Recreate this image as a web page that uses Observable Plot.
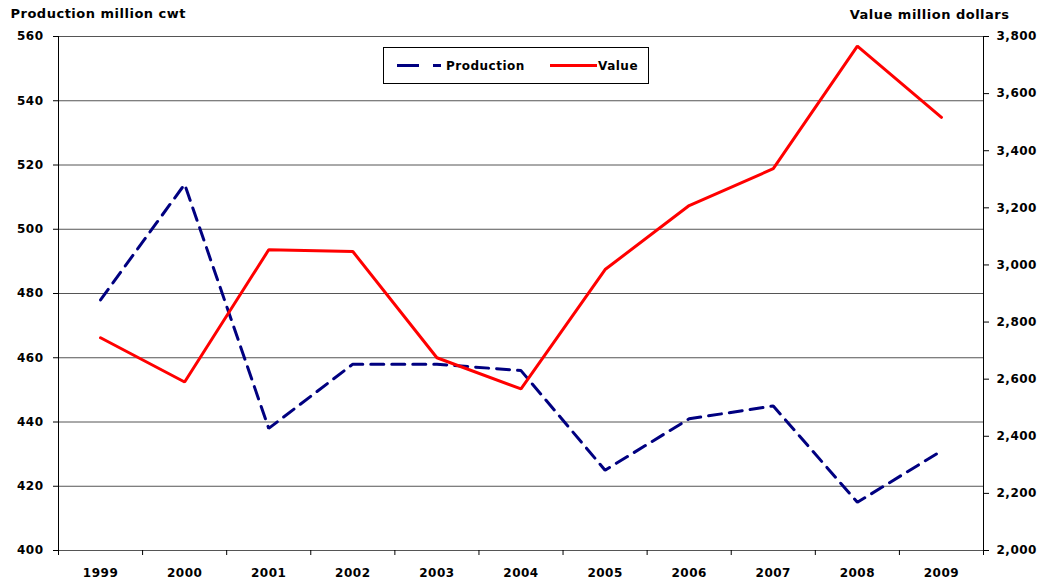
<!DOCTYPE html>
<html>
<head>
<meta charset="utf-8">
<script src="https://cdn.jsdelivr.net/npm/d3@7"></script>
<script src="https://cdn.jsdelivr.net/npm/@observablehq/plot@0.6"></script>
<style>
  body { margin: 0; background: #fff; font-family: "DejaVu Sans", sans-serif; }
  #wrap { position: relative; width: 1043px; height: 583px; }
  #legend { position: absolute; left: 383px; top: 47px; }
  svg text { font-family: "DejaVu Sans", sans-serif; font-weight: bold; letter-spacing: 0.5px; }
</style>
</head>
<body>
<div id="wrap"></div>
<script>
const years = [1999, 2000, 2001, 2002, 2003, 2004, 2005, 2006, 2007, 2008, 2009];
const production = [478, 514, 438, 458, 458, 456, 425, 441, 445, 415, 431];
const value = [2745, 2590, 3053, 3047, 2675, 2566, 2984, 3208, 3337, 3766, 3517];
const leftTicks = [400, 420, 440, 460, 480, 500, 520, 540, 560];
const rightTicks = [2000, 2200, 2400, 2600, 2800, 3000, 3200, 3400, 3600, 3800];
const leftTitle = "Production million cwt";
const rightTitle = "Value million dollars";
const seriesNames = ["Production", "Value"];

// map right-axis (value) units onto the left-axis (production) scale
const L0 = 400, L1 = 560, R0 = 2000, R1 = 3800;
const toLeft = v => L0 + (v - R0) * (L1 - L0) / (R1 - R0);
const toRight = p => R0 + (p - L0) * (R1 - R0) / (L1 - L0);

const table = years.map((y, i) => ({year: y, production: production[i], value: value[i]}));
const boundaries = [years[0] - 0.5, ...years.map(y => y + 0.5)];

const chart = Plot.plot({
  width: 1043,
  height: 583,
  marginLeft: 58,
  marginRight: 60,
  marginTop: 36,
  marginBottom: 33,
  style: {fontFamily: "'DejaVu Sans', sans-serif", fontSize: "12px", fontWeight: "bold", color: "#000", background: "#fff"},
  x: {type: "linear", domain: [years[0] - 0.5, years[years.length - 1] + 0.5]},
  y: {domain: [L0, L1]},
  marks: [
    Plot.ruleY(leftTicks, {stroke: "#555", strokeWidth: 1}),
    Plot.ruleX([boundaries[0], boundaries[boundaries.length - 1]], {y1: L0, y2: L1, stroke: "#000", strokeWidth: 1}),
    Plot.axisY(leftTicks, {anchor: "left", tickSize: 5, tickPadding: 10, label: null, tickFormat: d => String(d)}),
    Plot.axisY(rightTicks.map(toLeft), {anchor: "right", tickSize: 5, tickPadding: 8, label: null,
      tickFormat: d => d3.format(",")(Math.round(toRight(d)))}),
    Plot.axisX(boundaries, {tickSize: 5, tickFormat: () => "", label: null}),
    Plot.axisX(years, {tickSize: 0, tickPadding: 18, tickFormat: d => String(d), label: null}),
    Plot.line(table, {x: "year", y: "production", stroke: "#000080", strokeWidth: 3, strokeDasharray: "13,8", strokeLinejoin: "miter"}),
    Plot.line(table, {x: "year", y: d => toLeft(d.value), stroke: "#ff0000", strokeWidth: 3, strokeLinejoin: "miter"}),
    Plot.text([leftTitle], {frameAnchor: "top-left", dx: -48, dy: -28, textAnchor: "start", fontSize: 13, fontWeight: "bold"}),
    Plot.text([rightTitle], {frameAnchor: "top-right", dx: 26, dy: -27, textAnchor: "end", fontSize: 13, fontWeight: "bold"})
  ]
});
const wrap = document.getElementById("wrap");
wrap.appendChild(chart);

// legend
const lg = d3.select(wrap).append("svg").attr("id", "legend").attr("width", 267).attr("height", 38);
lg.append("rect").attr("x", 0.5).attr("y", 0.5).attr("width", 265).attr("height", 36)
  .attr("fill", "#fff").attr("stroke", "#000");
lg.append("line").attr("x1", 14).attr("x2", 58).attr("y1", 18.5).attr("y2", 18.5)
  .attr("stroke", "#000080").attr("stroke-width", 3).attr("stroke-dasharray", "22,14");
lg.append("text").attr("x", 63).attr("y", 18.5).attr("dy", "0.35em").text(seriesNames[0])
  .attr("font-size", 12);
lg.append("line").attr("x1", 167).attr("x2", 214).attr("y1", 18.5).attr("y2", 18.5)
  .attr("stroke", "#ff0000").attr("stroke-width", 3);
lg.append("text").attr("x", 215).attr("y", 18.5).attr("dy", "0.35em").text(seriesNames[1])
  .attr("font-size", 12);
</script>
</body>
</html>
